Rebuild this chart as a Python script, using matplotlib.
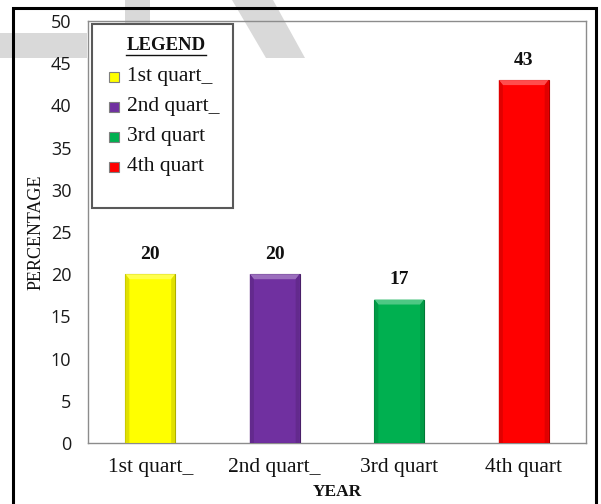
import matplotlib
matplotlib.use("Agg")
import matplotlib.pyplot as plt
from matplotlib.patches import Rectangle, Polygon
from matplotlib.lines import Line2D
import matplotlib.colors as mcolors

# ---- data ----
categories = ["1st quart_", "2nd quart_", "3rd quart", "4th quart"]
values = [20, 20, 17, 43]
bar_colors = ["#FFFF00", "#7030A0", "#00B050", "#FF0000"]
y_ticks = [0, 5, 10, 15, 20, 25, 30, 35, 40, 45, 50]

W, H = 601, 504
fig = plt.figure(figsize=(W / 100, H / 100), dpi=100, facecolor="white")

SERIF = ["Liberation Serif", "DejaVu Serif"]
SANS = ["Open Sans", "DejaVu Sans"]


def px(x, y):
    """Pixel position (from top-left) to figure fraction."""
    return x / W, 1 - y / H


def shade(c, f):
    r, g, b = mcolors.to_rgb(c)
    if f >= 0:
        return (r + (1 - r) * f, g + (1 - g) * f, b + (1 - b) * f)
    return (r * (1 + f), g * (1 + f), b * (1 + f))


# faint watermark strokes in the background
wm = "#d9d9d9"
for pts in ([(0, 33), (87, 33), (87, 58), (0, 58)],
            [(125, 0), (150, 0), (150, 58), (125, 58)],
            [(232, 0), (273, 0), (305, 58), (266, 58)]):
    fig.add_artist(Polygon([px(*p) for p in pts], closed=True,
                           transform=fig.transFigure, facecolor=wm,
                           edgecolor="none", zorder=0))

# outer black frame
x0, y0 = px(13, 8)
x1, y1 = px(596, 520)
fig.add_artist(Rectangle((x0, y1), x1 - x0, y0 - y1, transform=fig.transFigure,
                         fill=False, edgecolor="black", linewidth=2.2, zorder=1))

# plot area
ax = fig.add_axes([88 / W, 1 - 443 / H, 498 / W, 422 / H])
ax.set_facecolor("none")
for s in ax.spines.values():
    s.set_color("#8c8c8c")
    s.set_linewidth(1.0)

xs = list(range(len(categories)))
bw = 0.4
bars = ax.bar(xs, values, width=bw, color=bar_colors, zorder=3,
              edgecolor=[shade(c, -0.35) for c in bar_colors], linewidth=0.8)

# bevel highlights on each bar top and sides
dx = 4 * (4.0 / 498)  # ~4 px in data x units
dy = 5 * (50 / 422)  # ~5 px in data y units
for rect, c in zip(bars, bar_colors):
    xl = rect.get_x()
    xr = xl + rect.get_width()
    top = rect.get_height()
    ax.add_patch(Polygon([(xl, top), (xr, top), (xr - dx, top - dy), (xl + dx, top - dy)],
                         closed=True, facecolor=shade(c, 0.3), edgecolor="none", zorder=4))
    ax.add_patch(Polygon([(xl, 0), (xl, top), (xl + dx, top - dy), (xl + dx, 0)],
                         closed=True, facecolor=shade(c, -0.12), edgecolor="none", zorder=4))
    ax.add_patch(Polygon([(xr, 0), (xr, top), (xr - dx, top - dy), (xr - dx, 0)],
                         closed=True, facecolor=shade(c, -0.12), edgecolor="none", zorder=4))
    ax.annotate(f"{top:g}", (rect.get_x() + rect.get_width() / 2, top),
                xytext=(0, 8), textcoords="offset points", ha="center", va="bottom",
                fontsize=14, fontweight="bold", family=SERIF, color="#111111", zorder=5)

ax.set_xlim(-0.5, len(categories) - 0.5)
ax.set_ylim(0, 50)
ax.set_yticks(y_ticks)
ax.set_yticklabels([str(t) for t in y_ticks], family=SANS, fontsize=13, color="#1a1a1a")
ax.set_xticks(xs)
ax.set_xticklabels(categories, family=SERIF, fontsize=15.5, color="#111111")
ax.tick_params(axis="y", length=0, pad=12)
ax.tick_params(axis="x", length=0, pad=11)

ax.set_ylabel("PERCENTAGE", family=SERIF, fontsize=13, color="#111111")
ax.yaxis.set_label_coords(-0.088, 0.5)
ax.set_xlabel("YEAR", family=SERIF, fontsize=12.5, fontweight="bold", color="#111111")
ax.xaxis.set_label_coords(0.5, -0.098)

# legend box (axes fractions)
lx0, lx1 = 4 / 498, 145 / 498
ly0, ly1 = 235 / 422, 419 / 422
ax.add_patch(Rectangle((lx0, ly0), lx1 - lx0, ly1 - ly0, transform=ax.transAxes,
                       facecolor="white", edgecolor="#595959", linewidth=1.5, zorder=6))
ax.text(78 / 498, 397 / 422, "LEGEND", transform=ax.transAxes, ha="center", va="center",
        family=SERIF, fontsize=13.5, fontweight="bold", color="#111111", zorder=7)
ax.add_line(Line2D([38 / 498, 118 / 498], [388 / 422, 388 / 422], transform=ax.transAxes,
                   color="#111111", linewidth=1.0, zorder=7))
sq_w, sq_h = 10 / 498, 10 / 422
for i, (lab, c) in enumerate(zip(categories, bar_colors)):
    yc = (366 - 30 * i) / 422
    ax.add_patch(Rectangle((21 / 498, yc - sq_h / 2), sq_w, sq_h, transform=ax.transAxes,
                           facecolor=c, edgecolor="#7f7f7f", linewidth=0.8, zorder=7))
    ax.text(39 / 498, yc, lab, transform=ax.transAxes, ha="left", va="center",
            family=SERIF, fontsize=15.5, color="#111111", zorder=7)

fig.savefig("out.png", dpi=100, facecolor="white")
